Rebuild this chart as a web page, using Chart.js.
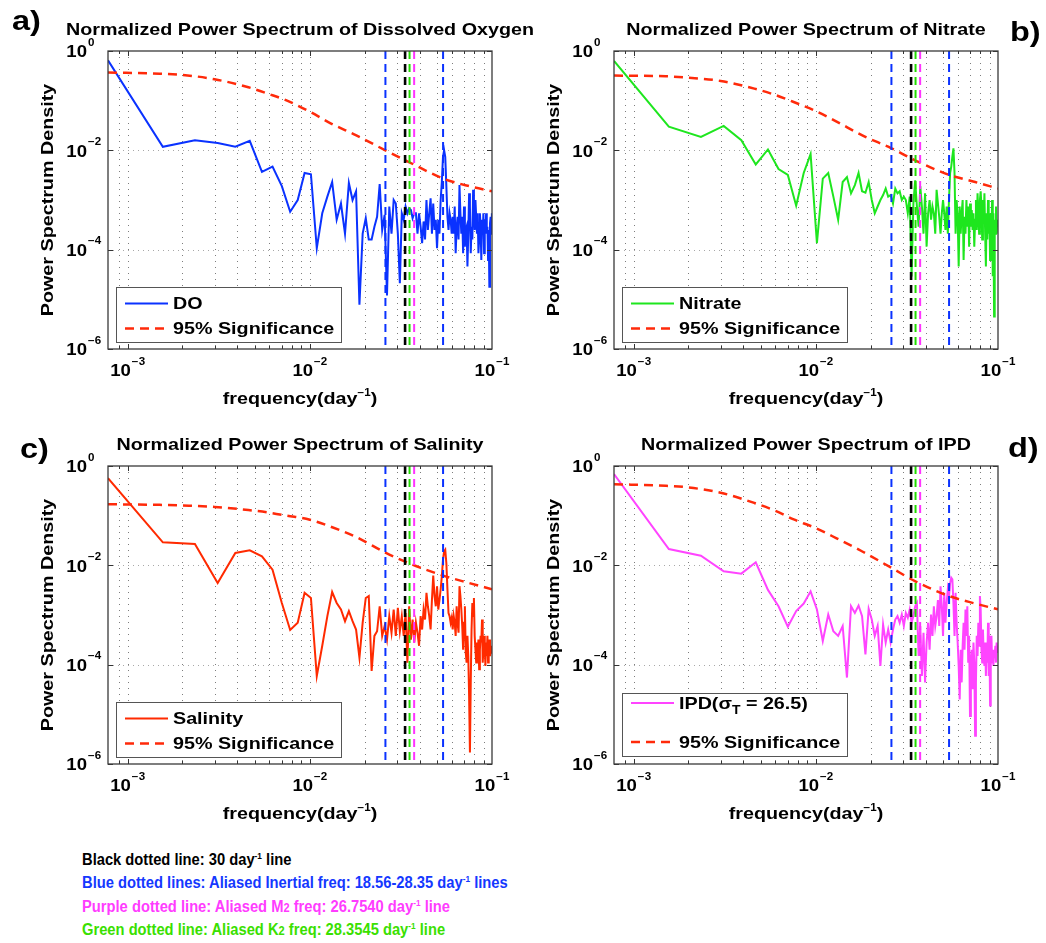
<!DOCTYPE html>
<html>
<head>
<meta charset="utf-8">
<title>Normalized power spectra</title>
<script src="https://cdn.jsdelivr.net/npm/chart.js@4.4.1/dist/chart.umd.min.js"></script>
<style>
  body { margin: 0; background: #fff; }
  #fig { position: relative; width: 1046px; height: 943px; overflow: hidden; background: #fff; }
  #fig canvas { position: absolute; }
  .notes { position: absolute; left: 82px; top: 848px; font: bold 16px "Liberation Sans", Arial, sans-serif;
           transform: scaleX(0.92); transform-origin: 0 0; }
  .notes div { height: 23.3px; line-height: 23.3px; white-space: nowrap; }
  .notes .sp { font-size: 9px; position: relative; top: -6px; }
  .notes .sm { font-size: 12px; }
</style>
</head>
<body>
<div id="fig">
  <canvas id="panelA" width="545" height="420" style="left:0;top:0;width:545px;height:420px"></canvas>
  <canvas id="panelB" width="526" height="420" style="left:520px;top:0;width:526px;height:420px"></canvas>
  <canvas id="panelC" width="545" height="420" style="left:0;top:415px;width:545px;height:420px"></canvas>
  <canvas id="panelD" width="526" height="420" style="left:520px;top:415px;width:526px;height:420px"></canvas>
  <div class="notes">
    <div style="color:#000">Black dotted line: 30 day<span class="sp">-1</span> line</div>
    <div style="color:#1438ff">Blue dotted lines: Aliased Inertial freq: 18.56-28.35 day<span class="sp">-1</span> lines</div>
    <div style="color:#ff3cff">Purple dotted line: Aliased M<span class="sm">2</span> freq: 26.7540 day<span class="sp">-1</span> line</div>
    <div style="color:#3ae000">Green dotted line: Aliased K<span class="sm">2</span> freq: 28.3545 day<span class="sp">-1</span> line</div>
  </div>
</div>
<script>
// frequency resolution of the periodograms (day^-1), bins k = 1..128
const freqStep = 7.8e-4;
const binCount = 128;

// normalized spectra, one value per frequency bin
const doPower = [
  0.65, 0.0118, 0.016, 0.014, 0.0118, 0.0155, 0.0037, 0.0047, 0.0019, 0.00058, 0.0010, 0.0035, 0.0033, 0.000107, 0.00054, 0.00117,
  0.0023, 0.0004, 0.00085, 0.00021, 0.0022, 0.0010, 0.0015, 7.8e-6, 0.00021, 0.00043, 0.00016, 0.00016, 0.00029, 0.00046, 0.0021, 0.00025,
  0.0005, 1.2e-5, 0.00074, 0.00021, 0.0010, 0.00085, 0.00021, 2.1e-5, 0.00054, 0.0004, 0.00074, 0.00054, 0.00068, 0.00063, 0.00043, 0.00054,
  0.00054, 0.00021, 0.00054, 0.00029, 0.000135, 0.00037, 0.00016, 0.0010, 0.00025, 0.00054, 0.00108, 0.00021, 0.00085, 0.00025, 0.0004, 0.000107,
  0.0004, 0.00021, 0.0010, 0.0023, 0.0074, 0.010, 0.0074, 0.0019, 0.00046, 0.00025, 0.00054, 0.0004, 0.00021, 0.00046, 0.00021, 0.00074,
  8.5e-5, 0.00029, 0.00046, 0.00016, 0.0020, 0.00054, 0.00021, 0.00046, 8.5e-5, 0.00074, 0.000115, 0.00025, 0.00029, 4.6e-5, 0.00021, 0.00136,
  0.00074, 8.5e-5, 0.00029, 0.00016, 0.0016, 0.00054, 0.00025, 0.0010, 0.00046, 0.00021, 0.00054, 8.5e-5, 0.00016, 0.00054, 0.00029, 6.2e-5,
  0.0004, 0.00021, 0.00054, 8.5e-5, 0.0004, 0.00021, 0.00054, 0.00021, 0.00029, 6.2e-5, 0.00025, 1.8e-5, 0.00034, 0.00046, 0.00021, 0.00054
];
const nitratePower = [
  0.63, 0.030, 0.0187, 0.031, 0.016, 0.0052, 0.0104, 0.0042, 0.0032, 0.00077, 0.0035, 0.0084, 0.000135, 0.0027, 0.0035, 0.00117,
  0.0004, 0.0023, 0.0029, 0.00136, 0.0020, 0.0035, 0.0015, 0.0014, 0.0023, 0.0010, 0.00054, 0.00074, 0.0010, 0.00126, 0.0017, 0.00117,
  0.00126, 0.00085, 0.0017, 0.00136, 0.0015, 0.0010, 0.00117, 0.0010, 0.00054, 0.00117, 2.9e-5, 0.00085, 0.0025, 0.00074, 0.00029, 0.0019,
  0.00074, 0.00021, 0.00136, 0.000115, 0.00054, 0.0010, 0.0004, 0.00074, 0.00054, 0.00021, 0.0016, 0.00085, 0.00046, 0.00021, 0.00054, 0.0010,
  0.00054, 0.00025, 0.00074, 0.00021, 0.0010, 0.0035, 0.0047, 0.0075, 0.011, 0.0035, 0.00021, 0.0010, 0.00046, 4.6e-5, 0.00074, 0.00021,
  0.00054, 0.0010, 6.2e-5, 0.00046, 0.00021, 0.0010, 0.00029, 0.00074, 0.000115, 0.00085, 0.00029, 0.00063, 0.00025, 0.00054, 0.000115, 0.0004,
  0.0010, 0.00025, 0.00136, 0.00054, 0.00021, 0.0010, 0.0015, 0.00074, 0.00016, 0.0010, 0.0004, 0.00136, 0.00021, 4.6e-5, 0.00054, 0.00016,
  0.0010, 0.00021, 0.00054, 6.2e-5, 0.00054, 0.00021, 0.0010, 2.9e-5, 0.00054, 4.5e-6, 0.0004, 0.00021, 0.00074, 0.00021, 0.0004, 0.00029
];
const salinityPower = [
  0.57, 0.029, 0.027, 0.0044, 0.0177, 0.020, 0.0152, 0.0082, 0.00175, 0.0005, 0.0007, 0.0028, 0.0022, 5.9e-5, 0.00024, 0.00095,
  0.0029, 0.00175, 0.00129, 0.00075, 0.0012, 0.00075, 0.00051, 0.000138, 0.0007, 0.0022, 0.0024, 7.5e-5, 0.00038, 0.00047, 0.0015, 0.00038,
  0.0006, 0.00032, 0.00095, 0.00044, 0.00129, 0.00038, 0.0014, 0.00047, 0.00095, 0.00038, 0.0011, 0.00011, 0.0015, 0.00032, 0.00081, 0.00028,
  0.0007, 0.00044, 0.00024, 0.00095, 0.00051, 0.00129, 0.00081, 0.0028, 0.0015, 0.00095, 0.00051, 0.0020, 0.0062, 0.0024, 0.0015, 0.0038,
  0.00129, 0.0020, 0.0033, 0.0060, 0.0130, 0.0191, 0.0206, 0.0111, 0.0033, 0.0011, 0.00095, 0.0007, 0.00088, 0.00051, 0.00095, 0.0007,
  0.00038, 0.0015, 0.0007, 0.00044, 0.0038, 0.0024, 0.00129, 0.0006, 0.0002, 0.0007, 0.0015, 0.000174, 0.00011, 0.00038, 0.000149, 2.3e-5,
  1.7e-6, 4.4e-5, 0.00051, 0.00175, 0.00095, 0.0022, 0.00038, 0.0002, 0.00011, 0.00028, 0.000149, 0.00032, 8.1e-5, 0.0002, 0.00038, 0.00028,
  0.00081, 0.00011, 0.0002, 0.00038, 0.0002, 9.4e-5, 0.00028, 0.000149, 0.00038, 0.00011, 0.000174, 0.00032, 0.000149, 0.0002, 0.000174, 0.00024
];
const ipdPower = [
  0.69, 0.0213, 0.0156, 0.0076, 0.0068, 0.0115, 0.0032, 0.0015, 0.00058, 0.0012, 0.0017, 0.0030, 0.00129, 0.0003, 0.00102, 0.00047,
  0.00038, 0.0006, 5.5e-5, 0.0015, 0.0011, 0.00155, 0.00095, 0.000161, 0.00133, 0.00081, 0.00038, 0.0006, 9.4e-5, 0.00064, 0.00028, 0.00051,
  0.00028, 0.00051, 0.00081, 0.00095, 0.0007, 0.00102, 0.0006, 0.0011, 0.00088, 0.00129, 0.0007, 0.00095, 0.0015, 0.00175, 0.000149, 0.0006,
  5.9e-5, 0.00044, 4.4e-5, 0.00028, 0.0007, 0.0002, 0.00102, 0.00038, 0.0015, 0.0006, 0.00095, 0.0020, 0.0006, 0.0038, 0.0015, 0.00038,
  0.0028, 0.0007, 0.00175, 0.0033, 0.0024, 0.0044, 0.0056, 0.0052, 0.00175, 0.00038, 0.0028, 0.0007, 0.00028, 9.4e-5, 2.0e-5, 0.0002,
  4.4e-5, 0.00024, 0.0007, 0.0002, 0.00129, 0.00038, 0.0015, 0.00011, 0.00038, 9.3e-6, 0.00011, 0.0002, 3.2e-5, 0.00028, 0.00011, 3.7e-6,
  4.4e-5, 0.00038, 0.000149, 0.0007, 0.00024, 0.0024, 0.00129, 0.0002, 0.00011, 0.00051, 0.000149, 9.4e-5, 0.00028, 5.9e-5, 0.0002, 0.00011,
  0.0007, 5.9e-5, 0.00038, 1.5e-5, 0.000149, 0.00038, 0.00011, 0.0002, 9.4e-5, 0.0002, 0.000149, 0.00024, 0.00011, 0.00028, 0.00018, 0.00024
];

// 95% red-noise significance levels
const sigFreq = [7.8e-4, 1.5e-3, 2e-3, 3e-3, 4.6e-3, 6e-3, 7.5e-3, 0.01, 0.013, 0.018, 0.026, 0.035, 0.054, 0.075, 0.1];
const doSig = [0.37, 0.35, 0.33, 0.27, 0.186, 0.135, 0.10, 0.06, 0.035, 0.020, 0.010, 0.0058, 0.0027, 0.0019, 0.0015];
const nitrateSig = [0.32, 0.31, 0.29, 0.25, 0.175, 0.13, 0.095, 0.062, 0.038, 0.020, 0.011, 0.0063, 0.0032, 0.0023, 0.0017];
const salinitySig = [0.17, 0.165, 0.16, 0.15, 0.13, 0.115, 0.10, 0.083, 0.06, 0.037, 0.018, 0.011, 0.0062, 0.0044, 0.0033];
const ipdSig = [0.43, 0.40, 0.37, 0.29, 0.18, 0.125, 0.085, 0.056, 0.035, 0.019, 0.0089, 0.0048, 0.0024, 0.0017, 0.0013];

// reference frequencies (day^-1)
const inertialFreqs = [0.0260, 1 / 18.56];
const thirtyDayFreq = 1 / 30;
const m2AliasFreq = 1 / 26.754;
const k2AliasFreq = 1 / 28.3545;

// axis ticks
const xTickExps = [-3, -2, -1];
const yTickExps = [0, -2, -4, -6];

const SX = 1.16;
const FONT = '"Liberation Sans", Arial, Helvetica, sans-serif';
const SIG_RED = '#ff2a0a';

const freqs = [];
for (let k = 1; k <= binCount; k++) freqs.push(k * freqStep);

// minor grid positions: 2..9 x each decade, plus 9e-4
const xGridFreqs = [9e-4];
for (const d of [1e-3, 1e-2]) for (let m = 1; m <= 9; m++) xGridFreqs.push(m * d);

function drawText(ctx, text, x, y, size, opts = {}) {
  ctx.save();
  ctx.translate(x, y);
  if (opts.rotate) ctx.rotate(opts.rotate);
  ctx.scale(opts.sx || SX, 1);
  ctx.font = `bold ${size}px ${FONT}`;
  ctx.fillStyle = opts.color || '#000';
  ctx.textAlign = opts.align || 'left';
  ctx.textBaseline = opts.baseline || 'alphabetic';
  ctx.fillText(text, 0, 0);
  ctx.restore();
}

function textWidth(ctx, text, size) {
  ctx.save();
  ctx.font = `bold ${size}px ${FONT}`;
  const w = ctx.measureText(text).width * SX;
  ctx.restore();
  return w;
}

// draws pieces of text side by side (for super/subscripts)
function drawRun(ctx, parts, x, y, align, baseline) {
  const widths = parts.map(p => textWidth(ctx, p.t, p.size) + (p.gap || 0));
  const total = widths.reduce((a, b) => a + b, 0);
  let cx = align === 'center' ? x - total / 2 : x;
  parts.forEach((p, i) => {
    drawText(ctx, p.t, cx, y + (p.dy || 0), p.size, { baseline: baseline || 'alphabetic' });
    cx += widths[i];
  });
}

const supText = e => (e === 0 ? '0' : '\u2212' + Math.abs(e));

const spectrumDecor = {
  id: 'spectrumDecor',
  beforeDatasetsDraw(chart) {
    const { ctx, chartArea: a, scales: { x, y } } = chart;
    ctx.save();
    ctx.beginPath();
    ctx.rect(a.left, a.top, a.width, a.height);
    ctx.clip();
    ctx.lineWidth = 1;
    ctx.setLineDash([1, 5]);
    ctx.strokeStyle = '#7d7d7d';
    xGridFreqs.forEach(f => {
      const px = Math.round(x.getPixelForValue(f)) + 0.5;
      ctx.beginPath();
      ctx.moveTo(px, a.top);
      ctx.lineTo(px, a.bottom);
      ctx.stroke();
    });
    ctx.setLineDash([1, 4]);
    ctx.strokeStyle = '#a8a8a8';
    [1e-2, 1e-4].forEach(v => {
      const py = Math.round(y.getPixelForValue(v)) + 0.5;
      ctx.beginPath();
      ctx.moveTo(a.left, py);
      ctx.lineTo(a.right, py);
      ctx.stroke();
    });
    ctx.restore();
  },
  afterDatasetsDraw(chart, args, opts) {
    const { ctx, chartArea: a, scales: { x, y } } = chart;
    ctx.save();

    // tick marks, inward
    ctx.strokeStyle = '#333';
    ctx.lineWidth = 1;
    xGridFreqs.forEach(f => {
      const px = Math.round(x.getPixelForValue(f)) + 0.5;
      const major = xTickExps.some(e => Math.abs(Math.log10(f) - e) < 1e-6);
      const len = major ? 5 : 3;
      ctx.beginPath();
      ctx.moveTo(px, a.bottom); ctx.lineTo(px, a.bottom - len);
      ctx.moveTo(px, a.top); ctx.lineTo(px, a.top + len);
      ctx.stroke();
    });
    yTickExps.forEach(e => {
      const py = Math.round(y.getPixelForValue(Math.pow(10, e))) + 0.5;
      ctx.beginPath();
      ctx.moveTo(a.left, py); ctx.lineTo(a.left + 5, py);
      ctx.moveTo(a.right, py); ctx.lineTo(a.right - 5, py);
      ctx.stroke();
    });

    // axes box
    ctx.lineWidth = 1.3;
    ctx.strokeStyle = '#3a3a3a';
    ctx.strokeRect(a.left, a.top, a.width, a.height);

    // legend
    const lg = opts.legend;
    const bx = a.left + 8, bw = 225, bh = lg.height;
    const by = a.bottom - lg.bottomGap - bh;
    ctx.fillStyle = '#fff';
    ctx.fillRect(bx, by, bw, bh);
    ctx.lineWidth = 1;
    ctx.strokeStyle = '#555';
    ctx.strokeRect(bx + 0.5, by + 0.5, bw, bh);
    chart.data.datasets.slice(0, 2).forEach((ds, i) => {
      const ry = by + lg.rows[i];
      ctx.save();
      ctx.strokeStyle = ds.borderColor;
      ctx.lineWidth = ds.borderWidth;
      ctx.setLineDash(ds.borderDash || []);
      ctx.beginPath();
      ctx.moveTo(bx + 9, ry);
      ctx.lineTo(bx + 52, ry);
      ctx.stroke();
      ctx.restore();
      const parts = i === 0 && lg.labelParts ? lg.labelParts : [{ t: ds.label, size: 17 }];
      drawRun(ctx, parts, bx + 57, ry + 1, 'left', 'middle');
    });

    // tick labels
    yTickExps.forEach(e => {
      const py = y.getPixelForValue(Math.pow(10, e));
      drawText(ctx, '10', a.left - 21, py + 2, 16, { align: 'right', baseline: 'middle' });
      drawText(ctx, supText(e), a.left - 20, py - 8, 10, { baseline: 'middle' });
    });
    xTickExps.forEach(e => {
      const px = x.getPixelForValue(Math.pow(10, e));
      drawRun(ctx, [{ t: '10', size: 16, gap: 1 }, { t: supText(e), size: 10, dy: -10 }],
        px, a.bottom + 23, 'center', 'middle');
    });

    // axis titles and panel title
    const midX = (a.left + a.right) / 2;
    const midY = (a.top + a.bottom) / 2;
    drawText(ctx, 'Power Spectrum Density', a.left - 60, midY, 17,
      { rotate: -Math.PI / 2, align: 'center', baseline: 'middle' });
    drawRun(ctx, [{ t: 'frequency(day', size: 17 }, { t: '\u22121', size: 10, dy: -8 }, { t: ')', size: 17 }],
      midX, a.bottom + 55, 'center');
    drawText(ctx, opts.title, midX, a.top - 16, 17, { align: 'center' });
    drawText(ctx, opts.letter, opts.letterX, opts.letterY, 28);

    ctx.restore();
  }
};

const standardLegend = { height: 55, bottomGap: 7, rows: [16.5, 41.5] };

const panels = [
  {
    canvas: 'panelA', power: doPower, sig: doSig, color: '#0a32ff', label: 'DO',
    title: 'Normalized Power Spectrum of Dissolved Oxygen', letter: 'a)', letterX: 12, letterY: 30,
    axisLeft: 108, padRight: 53, legend: standardLegend
  },
  {
    canvas: 'panelB', power: nitratePower, sig: nitrateSig, color: '#1ee61e', label: 'Nitrate',
    title: 'Normalized Power Spectrum of Nitrate', letter: 'b)', letterX: 490, letterY: 41,
    axisLeft: 94, padRight: 48, legend: standardLegend
  },
  {
    canvas: 'panelC', power: salinityPower, sig: salinitySig, color: '#ff2a00', label: 'Salinity',
    title: 'Normalized Power Spectrum of Salinity', letter: 'c)', letterX: 20, letterY: 43,
    axisLeft: 108, padRight: 53, legend: standardLegend
  },
  {
    canvas: 'panelD', power: ipdPower, sig: ipdSig, color: '#ff44ff', label: 'IPD(\u03c3T = 26.5)',
    title: 'Normalized Power Spectrum of IPD', letter: 'd)', letterX: 488, letterY: 42,
    axisLeft: 94, padRight: 48,
    legend: {
      height: 63, bottomGap: 8, rows: [10, 49],
      labelParts: [{ t: 'IPD(\u03c3', size: 17 }, { t: 'T', size: 12, dy: 7 }, { t: ' = 26.5)', size: 17 }]
    }
  }
];

function markerLine(freq, color, width) {
  return {
    label: '', data: [{ x: freq, y: 1 }, { x: freq, y: 1e-6 }],
    borderColor: color, borderWidth: width, borderDash: [8, 5], order: 0
  };
}

panels.forEach(p => {
  new Chart(document.getElementById(p.canvas), {
    type: 'line',
    data: {
      datasets: [
        {
          label: p.label, data: freqs.map((f, i) => ({ x: f, y: p.power[i] })),
          borderColor: p.color, borderWidth: 2, order: 2
        },
        {
          label: '95% Significance', data: sigFreq.map((f, i) => ({ x: f, y: p.sig[i] })),
          borderColor: SIG_RED, borderWidth: 2.5, borderDash: [9, 6],
          cubicInterpolationMode: 'monotone', order: 1
        },
        markerLine(inertialFreqs[0], '#0a32ff', 2),
        markerLine(inertialFreqs[1], '#0a32ff', 2),
        markerLine(thirtyDayFreq, '#000', 2.6),
        markerLine(k2AliasFreq, '#22dd00', 2),
        markerLine(m2AliasFreq, '#ff33ff', 2)
      ]
    },
    options: {
      responsive: false,
      animation: false,
      devicePixelRatio: 1,
      layout: { padding: { top: 51, right: p.padRight, left: 0, bottom: 0 } },
      elements: { point: { radius: 0 }, line: { tension: 0 } },
      scales: {
        x: {
          type: 'logarithmic', min: freqStep, max: 0.1,
          ticks: { display: false }, grid: { display: false }, border: { display: false },
          afterFit: s => { s.height = 71; }
        },
        y: {
          type: 'logarithmic', min: 1e-6, max: 1,
          ticks: { display: false }, grid: { display: false }, border: { display: false },
          afterFit: s => { s.width = p.axisLeft; }
        }
      },
      plugins: {
        legend: { display: false },
        tooltip: { enabled: false },
        spectrumDecor: { title: p.title, letter: p.letter, letterX: p.letterX, letterY: p.letterY, legend: p.legend }
      }
    },
    plugins: [spectrumDecor]
  });
});
</script>
</body>
</html>
